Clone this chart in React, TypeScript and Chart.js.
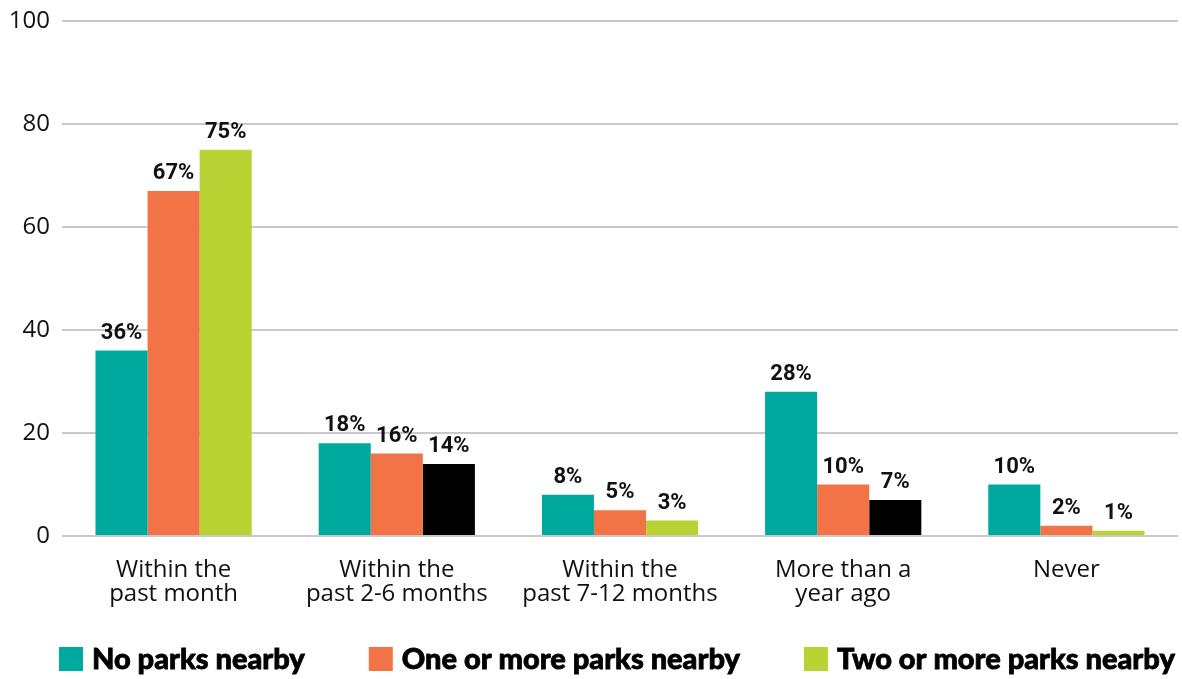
import React, { useEffect, useRef } from "react";
import { Chart, registerables } from "chart.js";

Chart.register(...registerables);

const categories: string[][] = [
  ["Within the", "past month"],
  ["Within the", "past 2-6 months"],
  ["Within the", "past 7-12 months"],
  ["More than a", "year ago"],
  ["Never"],
];

const seriesNames = ["No parks nearby", "One or more parks nearby", "Two or more parks nearby"];

const noParks = [36, 18, 8, 28, 10];
const oneOrMore = [67, 16, 5, 10, 2];
const twoOrMore = [75, 14, 3, 7, 1];

const yTicks = [0, 20, 40, 60, 80, 100];

const TEAL = "#00A99D";
const ORANGE = "#F27446";
const LIME = "#B9D334";
const BLACK = "#000000";

const twoOrMoreColors = [LIME, BLACK, LIME, BLACK, LIME];
const legendColors = [TEAL, ORANGE, LIME];

const valueLabels = {
  id: "valueLabels",
  afterDatasetsDraw(chart: any) {
    const ctx = chart.ctx;
    ctx.save();
    ctx.font = "700 22px Roboto";
    ctx.fillStyle = "#111111";
    ctx.textAlign = "center";
    ctx.textBaseline = "alphabetic";
    chart.data.datasets.forEach((ds: any, i: number) => {
      const meta = chart.getDatasetMeta(i);
      meta.data.forEach((bar: any, j: number) => {
        ctx.fillText(ds.data[j] + "%", bar.x, bar.y - 12);
      });
    });
    ctx.restore();
  },
};

const bottomLegend = {
  id: "bottomLegend",
  afterDraw(chart: any) {
    const ctx = chart.ctx;
    ctx.save();
    ctx.font = "900 29px Lato";
    ctx.textAlign = "left";
    ctx.textBaseline = "middle";
    const box = 24;
    const boxTop = 647;
    const midY = boxTop + box / 2;
    let x = 59;
    seriesNames.forEach((name, i) => {
      ctx.fillStyle = legendColors[i];
      ctx.fillRect(x, boxTop, box, box);
      const tx = x + box + 9;
      ctx.fillStyle = "#000000";
      ctx.strokeStyle = "#000000";
      ctx.lineWidth = 0.8;
      ctx.fillText(name, tx, midY + 1);
      ctx.strokeText(name, tx, midY + 1);
      x = tx + ctx.measureText(name).width + 64;
    });
    ctx.restore();
  },
};

export default function App() {
  const ref = useRef<HTMLCanvasElement>(null);

  useEffect(() => {
    if (!ref.current) return;
    const chart = new Chart(ref.current, {
      type: "bar",
      data: {
        labels: categories,
        datasets: [
          { label: seriesNames[0], data: noParks, backgroundColor: TEAL },
          { label: seriesNames[1], data: oneOrMore, backgroundColor: ORANGE },
          { label: seriesNames[2], data: twoOrMore, backgroundColor: twoOrMoreColors },
        ],
      },
      options: {
        responsive: false,
        animation: false,
        layout: { padding: { top: 21, right: 4, left: 0, bottom: 68 } },
        datasets: { bar: { categoryPercentage: 0.7, barPercentage: 1.0, borderWidth: 0 } },
        scales: {
          x: {
            grid: { display: false, drawTicks: false },
            border: { display: false },
            ticks: {
              color: "#111111",
              font: { family: "Open Sans", size: 24, lineHeight: 1.0 },
              padding: 22,
              maxRotation: 0,
              autoSkip: false,
            },
            afterFit: (s: any) => {
              s.height = 75;
            },
          },
          y: {
            min: 0,
            max: 100,
            afterBuildTicks: (s: any) => {
              s.ticks = yTicks.map((v) => ({ value: v }));
            },
            grid: { color: "#c9c9c9", lineWidth: 2, drawTicks: false },
            border: { display: false },
            ticks: {
              color: "#111111",
              font: { family: "Open Sans", size: 24 },
              padding: 12,
            },
            afterFit: (s: any) => {
              s.width = 62;
              s.paddingTop = 0;
              s.paddingBottom = 0;
            },
          },
        },
        plugins: {
          tooltip: { enabled: false },
          legend: { display: false },
        },
      },
      plugins: [valueLabels, bottomLegend],
    });
    return () => chart.destroy();
  }, []);

  return (
    <div style={{ position: "absolute", left: 0, top: 0, width: 1182, height: 679, background: "#fff" }}>
      <canvas ref={ref} width={1182} height={679} />
    </div>
  );
}
